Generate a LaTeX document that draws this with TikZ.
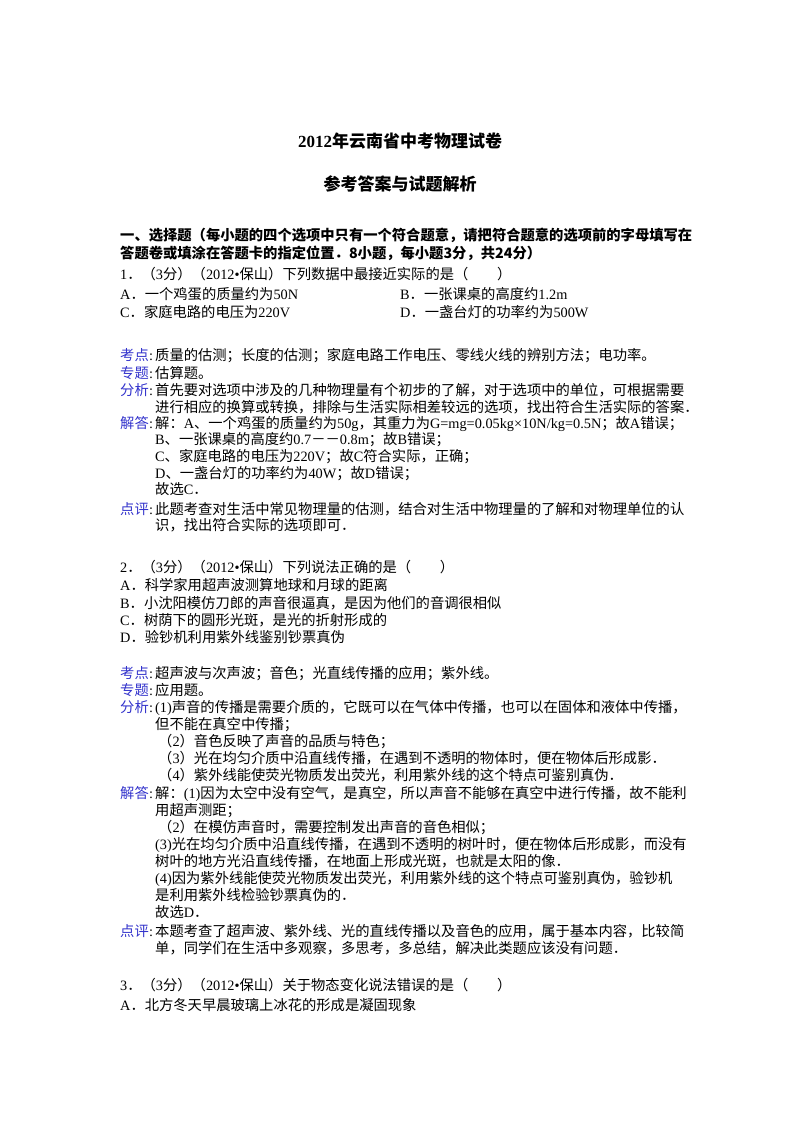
\documentclass[tikz,border=0pt]{standalone}
\usepackage{fontspec}
\setmainfont{Liberation Serif}
\newfontfamily\cjkreg{Noto Sans CJK SC}
\newfontfamily\cjkbf{Noto Sans CJK SC Bold}
\def\cjkcur{\cjkreg}
\def\latcur{\rmfamily\mdseries}
\XeTeXinterchartokenstate=1
\newXeTeXintercharclass\CJKcls
\count255="3000
\loop \XeTeXcharclass\count255=\CJKcls \ifnum\count255<"9FFF \advance\count255 by 1 \repeat
\count255="FF00
\loop \XeTeXcharclass\count255=\CJKcls \ifnum\count255<"FFEF \advance\count255 by 1 \repeat
\XeTeXinterchartoks 0 \CJKcls = {\cjkcur}
\XeTeXinterchartoks 4095 \CJKcls = {\cjkcur}
\XeTeXinterchartoks \CJKcls 0 = {\latcur}
\definecolor{lbl}{RGB}{51,51,204}
\tikzset{ln/.style={anchor=base west,inner sep=0pt,font=\fontsize{14.3}{17}\selectfont},
 tt/.style={anchor=base,inner sep=0pt,font=\fontsize{17}{20}\selectfont\bfseries\def\cjkcur{\cjkbf}\def\latcur{\bfseries}},
 bl/.style={ln,font=\fontsize{14.3}{17}\selectfont\bfseries\def\cjkcur{\cjkbf}\def\latcur{\bfseries}},
 lab/.style={ln,text=lbl}}
\newcommand\lb[3]{\node[lab] (#1) at (120,#2) {#3};\node[ln] at (149,#2) {:};}
\begin{document}
\begin{tikzpicture}[x=1pt,y=-1pt]
\useasboundingbox[fill=white] (0,0) rectangle (800,1132);
\node[tt] (t1) at (400,147) {2012年云南省中考物理试卷};
\node[tt] (t2) at (400,190) {参考答案与试题解析};
\node[bl] (s1) at (120,240) {一、选择题（每小题的四个选项中只有一个符合题意，请把符合题意的选项前的字母填写在};
\node[bl] (s2) at (120,258) {答题卷或填涂在答题卡的指定位置．8小题，每小题3分，共24分）};
\node[ln] (q1) at (120,279) {1．（3分）（2012•保山）下列数据中最接近实际的是（　　）};
\node[ln] (q1a) at (120,299) {A．一个鸡蛋的质量约为50N};
\node[ln] (q1b) at (400,299) {B．一张课桌的高度约1.2m};
\node[ln] (q1c) at (120,317) {C．家庭电路的电压为220V};
\node[ln] (q1d) at (400,317) {D．一盏台灯的功率约为500W};
\lb{k1}{360}{考点}
\node[ln] at (155,360) {质量的估测；长度的估测；家庭电路工作电压、零线火线的辨别方法；电功率。};
\lb{z1}{378}{专题}
\node[ln] at (155,378) {估算题。};
\lb{f1}{395}{分析}
\node[ln] at (155,395) {首先要对选项中涉及的几种物理量有个初步的了解，对于选项中的单位，可根据需要};
\node[ln] at (155,412) {进行相应的换算或转换，排除与生活实际相差较远的选项，找出符合生活实际的答案．};
\lb{j1}{428}{解答}
\node[ln] at (155,428) {解：A、一个鸡蛋的质量约为50g，其重力为G=mg=0.05kg×10N/kg=0.5N；故A错误；};
\node[ln] at (155,444) {B、一张课桌的高度约0.7－－0.8m；故B错误；};
\node[ln] at (155,461) {C、家庭电路的电压为220V；故C符合实际，正确；};
\node[ln] at (155,478) {D、一盏台灯的功率约为40W；故D错误；};
\node[ln] at (155,494) {故选C．};
\lb{d1}{514}{点评}
\node[ln] at (155,514) {此题考查对生活中常见物理量的估测，结合对生活中物理量的了解和对物理单位的认};
\node[ln] at (155,530) {识，找出符合实际的选项即可．};
\node[ln] (q2) at (120,572) {2．（3分）（2012•保山）下列说法正确的是（　　）};
\node[ln] at (120,590) {A．科学家用超声波测算地球和月球的距离};
\node[ln] at (120,608) {B．小沈阳模仿刀郎的声音很逼真，是因为他们的音调很相似};
\node[ln] at (120,625) {C．树荫下的圆形光斑，是光的折射形成的};
\node[ln] at (120,642) {D．验钞机利用紫外线鉴别钞票真伪};
\lb{k2}{678}{考点}
\node[ln] at (155,678) {超声波与次声波；音色；光直线传播的应用；紫外线。};
\lb{z2}{695}{专题}
\node[ln] at (155,695) {应用题。};
\lb{f2}{712}{分析}
\node[ln] at (155,712) {(1)声音的传播是需要介质的，它既可以在气体中传播，也可以在固体和液体中传播，};
\node[ln] at (155,729) {但不能在真空中传播；};
\node[ln] at (158,746) {（2）音色反映了声音的品质与特色；};
\node[ln] at (158,763) {（3）光在均匀介质中沿直线传播，在遇到不透明的物体时，便在物体后形成影．};
\node[ln] at (158,780) {（4）紫外线能使荧光物质发出荧光，利用紫外线的这个特点可鉴别真伪．};
\lb{j2}{798}{解答}
\node[ln] at (155,798) {解：(1)因为太空中没有空气，是真空，所以声音不能够在真空中进行传播，故不能利};
\node[ln] at (155,815) {用超声测距；};
\node[ln] at (158,832) {（2）在模仿声音时，需要控制发出声音的音色相似；};
\node[ln] at (155,849) {(3)光在均匀介质中沿直线传播，在遇到不透明的树叶时，便在物体后形成影，而没有};
\node[ln] at (155,866) {树叶的地方光沿直线传播，在地面上形成光斑，也就是太阳的像．};
\node[ln] at (155,883) {(4)因为紫外线能使荧光物质发出荧光，利用紫外线的这个特点可鉴别真伪，验钞机};
\node[ln] at (155,900) {是利用紫外线检验钞票真伪的．};
\node[ln] at (155,917) {故选D．};
\lb{d2}{936}{点评}
\node[ln] at (155,936) {本题考查了超声波、紫外线、光的直线传播以及音色的应用，属于基本内容，比较简};
\node[ln] at (155,953) {单，同学们在生活中多观察，多思考，多总结，解决此类题应该没有问题．};
\node[ln] (q3) at (120,990) {3．（3分）（2012•保山）关于物态变化说法错误的是（　　）};
\node[ln] at (120,1010) {A．北方冬天早晨玻璃上冰花的形成是凝固现象};
\end{tikzpicture}
\end{document}
